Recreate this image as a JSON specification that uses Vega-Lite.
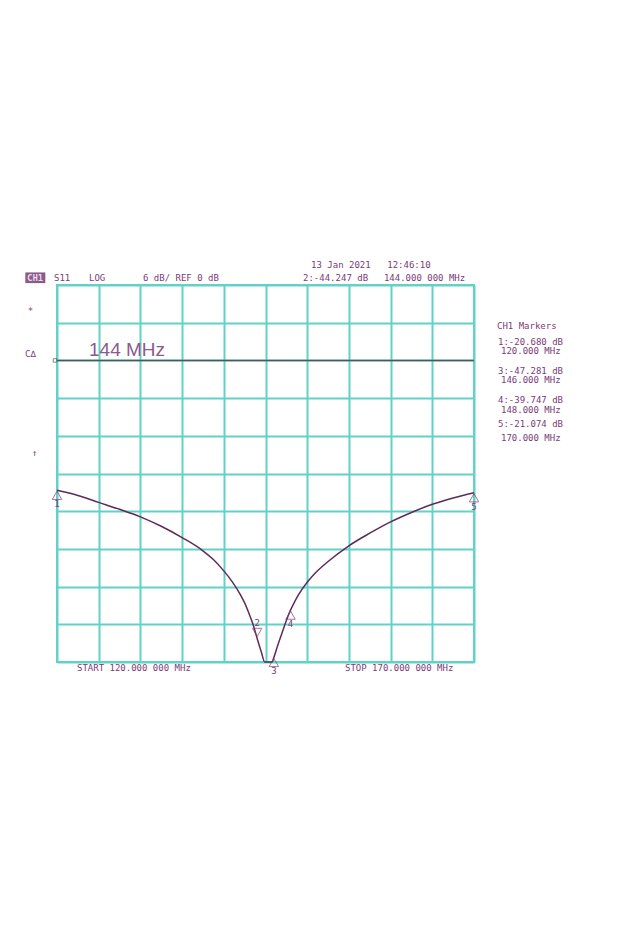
{
  "$schema": "https://vega.github.io/schema/vega-lite/v6.json",
  "autosize": "none",
  "width": 417,
  "height": 377,
  "padding": {"left": 57, "top": 285, "right": 146, "bottom": 268},
  "background": "white",
  "config": {
    "view": {"stroke": "#62d2c8", "strokeWidth": 2},
    "axis": {"grid": true, "gridColor": "#62d2c8", "gridWidth": 2, "gridOpacity": 1, "domain": false, "labels": false, "ticks": false, "title": null, "labelOverlap": false},
    "text": {"font": "DejaVu Sans Mono", "fontSize": 9, "color": "#7a3c78", "align": "left", "baseline": "middle"}
  },
  "datasets": {
    "trace": [
      {"f": 120, "db": -20.68}, {"f": 122.5, "db": -21.5}, {"f": 125, "db": -22.6}, {"f": 127.5, "db": -23.7},
      {"f": 130, "db": -24.9}, {"f": 132.5, "db": -26.4}, {"f": 135, "db": -28.2}, {"f": 137.5, "db": -30.3},
      {"f": 138.75, "db": -31.7}, {"f": 140, "db": -33.5}, {"f": 141, "db": -35.2}, {"f": 142, "db": -37.3},
      {"f": 142.5, "db": -38.6}, {"f": 143, "db": -40.2}, {"f": 143.5, "db": -42.0}, {"f": 144, "db": -44.247},
      {"f": 144.5, "db": -46.4}, {"f": 144.9, "db": -48}, {"f": 145.8, "db": -48}, {"f": 146, "db": -47.281},
      {"f": 146.5, "db": -45.2}, {"f": 147, "db": -43.3}, {"f": 147.5, "db": -41.4}, {"f": 148, "db": -39.747},
      {"f": 148.5, "db": -38.4}, {"f": 149, "db": -37.2}, {"f": 150, "db": -35.3}, {"f": 151, "db": -33.8},
      {"f": 152.5, "db": -32.0}, {"f": 155, "db": -29.5}, {"f": 157.5, "db": -27.5}, {"f": 160, "db": -25.7},
      {"f": 162.5, "db": -24.2}, {"f": 165, "db": -22.9}, {"f": 167.5, "db": -21.9}, {"f": 170, "db": -21.074}
    ],
    "markers": [
      {"n": "1", "f": 120, "db": -20.68, "dir": "up"},
      {"n": "2", "f": 144, "db": -44.247, "dir": "down"},
      {"n": "3", "f": 146, "db": -47.281, "dir": "up"},
      {"n": "4", "f": 148, "db": -39.747, "dir": "up"},
      {"n": "5", "f": 170, "db": -21.074, "dir": "up"}
    ],
    "labels": [
      {"t": "S11", "f": 119.64, "db": 13.11},
      {"t": "LOG", "f": 123.84, "db": 13.11},
      {"t": "6 dB/ REF 0 dB", "f": 130.31, "db": 13.11},
      {"t": "2:-44.247 dB", "f": 149.5, "db": 13.11},
      {"t": "144.000 000 MHz", "f": 159.2, "db": 13.11},
      {"t": "13 Jan 2021", "f": 150.46, "db": 15.18},
      {"t": "12:46:10", "f": 159.6, "db": 15.18},
      {"t": "*", "f": 116.5, "db": 7.86},
      {"t": "C∆", "f": 116.16, "db": 1.02},
      {"t": "↑", "f": 117.0, "db": -14.74},
      {"t": "START 120.000 000 MHz", "f": 122.4, "db": -48.96},
      {"t": "STOP 170.000 000 MHz", "f": 154.53, "db": -48.96},
      {"t": "CH1 Markers", "f": 172.76, "db": 5.47},
      {"t": "1:-20.680 dB", "f": 172.88, "db": 2.93},
      {"t": "120.000 MHz", "f": 173.24, "db": 1.5},
      {"t": "3:-47.281 dB", "f": 172.88, "db": -1.69},
      {"t": "146.000 MHz", "f": 173.24, "db": -3.12},
      {"t": "4:-39.747 dB", "f": 172.88, "db": -6.3},
      {"t": "148.000 MHz", "f": 173.24, "db": -7.85},
      {"t": "5:-21.074 dB", "f": 172.88, "db": -10.12},
      {"t": "170.000 MHz", "f": 173.24, "db": -12.35}
    ]
  },
  "layer": [
    {
      "data": {"name": "trace"},
      "mark": {"type": "line", "color": "#5e2a5c", "strokeWidth": 1.5, "interpolate": "monotone"},
      "encoding": {
        "x": {"field": "f", "type": "quantitative", "scale": {"domain": [120, 170], "nice": false, "zero": false}, "axis": {"values": [120, 125, 130, 135, 140, 145, 150, 155, 160, 165, 170], "tickCount": 30}},
        "y": {"field": "db", "type": "quantitative", "scale": {"domain": [-48, 12], "nice": false, "zero": false}, "axis": {"values": [-48, -42, -36, -30, -24, -18, -12, -6, 0, 6, 12], "tickCount": 30}}
      }
    },
    {
      "data": {"values": [{"db": 0}]},
      "mark": {"type": "rule", "color": "#555555", "strokeWidth": 1.5},
      "encoding": {"y": {"field": "db", "type": "quantitative"}}
    },
    {
      "data": {"values": [{"f": 120, "db": 0}]},
      "mark": {"type": "point", "shape": "square", "size": 12, "filled": false, "color": "#555555", "strokeWidth": 1, "xOffset": -2},
      "encoding": {"x": {"field": "f", "type": "quantitative"}, "y": {"field": "db", "type": "quantitative"}}
    },
    {
      "data": {"name": "markers"},
      "transform": [{"filter": "datum.dir === 'up'"}],
      "mark": {"type": "point", "shape": "triangle-up", "size": 90, "filled": false, "color": "#7a3c78", "strokeWidth": 1, "yOffset": 5},
      "encoding": {"x": {"field": "f", "type": "quantitative"}, "y": {"field": "db", "type": "quantitative"}}
    },
    {
      "data": {"name": "markers"},
      "transform": [{"filter": "datum.dir === 'up'"}],
      "mark": {"type": "text", "align": "center", "dy": 14, "fontSize": 9},
      "encoding": {"x": {"field": "f", "type": "quantitative"}, "y": {"field": "db", "type": "quantitative"}, "text": {"field": "n"}}
    },
    {
      "data": {"name": "markers"},
      "transform": [{"filter": "datum.dir === 'down'"}],
      "mark": {"type": "point", "shape": "triangle-down", "size": 90, "filled": false, "color": "#7a3c78", "strokeWidth": 1, "yOffset": -6},
      "encoding": {"x": {"field": "f", "type": "quantitative"}, "y": {"field": "db", "type": "quantitative"}}
    },
    {
      "data": {"name": "markers"},
      "transform": [{"filter": "datum.dir === 'down'"}],
      "mark": {"type": "text", "align": "center", "dy": -15, "fontSize": 9},
      "encoding": {"x": {"field": "f", "type": "quantitative"}, "y": {"field": "db", "type": "quantitative"}, "text": {"field": "n"}}
    },
    {
      "data": {"values": [{"f": 116.2, "f2": 118.6, "db": 14.0, "db2": 12.3}]},
      "mark": {"type": "rect", "color": "#8a5a88"},
      "encoding": {"x": {"field": "f", "type": "quantitative"}, "x2": {"field": "f2"}, "y": {"field": "db", "type": "quantitative"}, "y2": {"field": "db2"}}
    },
    {
      "data": {"values": [{"t": "CH1", "f": 116.4, "db": 13.11}]},
      "mark": {"type": "text", "color": "#e8d8e8", "fontWeight": "bold"},
      "encoding": {"x": {"field": "f", "type": "quantitative"}, "y": {"field": "db", "type": "quantitative"}, "text": {"field": "t"}}
    },
    {
      "data": {"name": "labels"},
      "mark": {"type": "text"},
      "encoding": {"x": {"field": "f", "type": "quantitative"}, "y": {"field": "db", "type": "quantitative"}, "text": {"field": "t"}}
    },
    {
      "data": {"values": [{"t": "144 MHz", "f": 123.84, "db": 1.65}]},
      "mark": {"type": "text", "font": "Liberation Sans", "fontSize": 19, "fontWeight": 300, "color": "#8a5a90"},
      "encoding": {"x": {"field": "f", "type": "quantitative"}, "y": {"field": "db", "type": "quantitative"}, "text": {"field": "t"}}
    }
  ]
}
